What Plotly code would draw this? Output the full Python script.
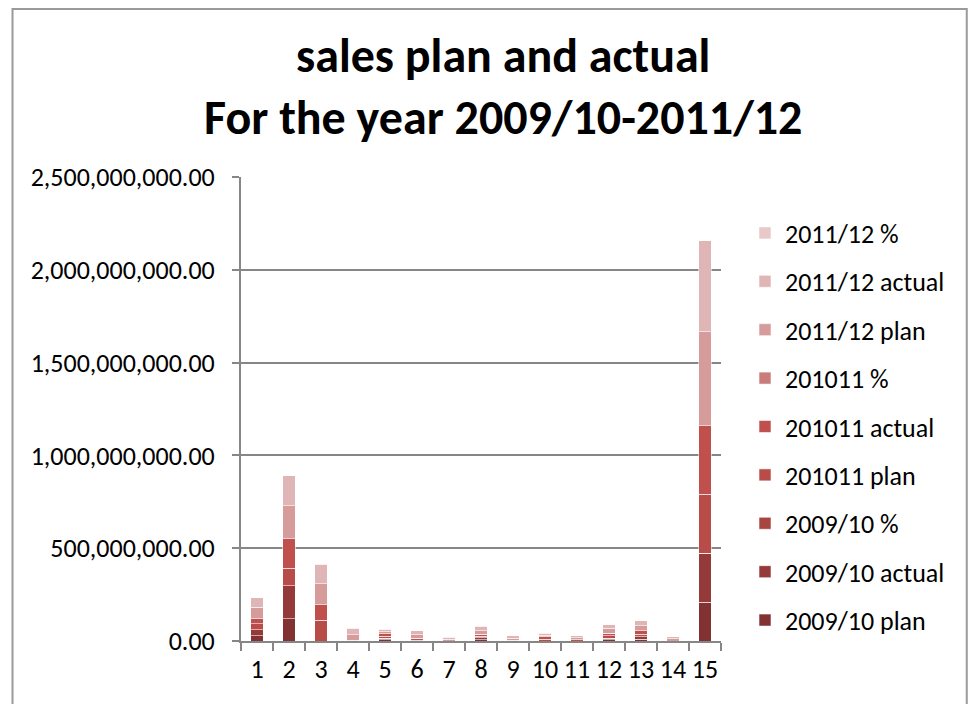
import plotly.graph_objects as go

categories = [str(i) for i in range(1, 16)]

series_names = [
    "2009/10 plan", "2009/10 actual", "2009/10 %",
    "201011 plan", "201011 actual", "201011 %",
    "2011/12 plan", "2011/12 actual", "2011/12 %",
]

plan_0910 =   [29e6, 120e6, 0, 0, 8e6, 0, 0, 8e6, 0, 0, 0, 6e6, 10e6, 0, 208e6]
actual_0910 = [31e6, 178e6, 0, 0, 8e6, 0, 0, 10e6, 0, 0, 0, 8e6, 12e6, 0, 266e6]
pct_0910 =    [1.07, 1.48, 0, 0, 1.0, 0, 0, 1.25, 0, 0, 0, 1.33, 1.2, 0, 1.28]
plan_1011 =   [32e6, 94e6, 112e6, 0, 10e6, 5e6, 0, 8e6, 0, 10e6, 0, 13e6, 15e6, 0, 316e6]
actual_1011 = [29e6, 160e6, 84e6, 5e6, 12e6, 10e6, 0, 10e6, 5e6, 12e6, 7e6, 15e6, 17e6, 0, 370e6]
pct_1011 =    [0.91, 1.70, 0.75, 0, 1.2, 2.0, 0, 1.25, 0, 1.2, 0, 1.15, 1.13, 0, 1.17]
plan_1112 =   [61e6, 178e6, 113e6, 30e6, 13e6, 19e6, 10e6, 20e6, 11e6, 10e6, 10e6, 27e6, 29e6, 11e6, 506e6]
actual_1112 = [50e6, 160e6, 105e6, 35e6, 13e6, 20e6, 10e6, 23e6, 11e6, 11e6, 10e6, 19e6, 25e6, 12e6, 490e6]
pct_1112 =    [0.82, 0.90, 0.93, 1.17, 1.0, 1.05, 1.0, 1.15, 1.0, 1.1, 1.0, 0.70, 0.86, 1.09, 0.97]

series_values = [plan_0910, actual_0910, pct_0910,
                 plan_1011, actual_1011, pct_1011,
                 plan_1112, actual_1112, pct_1112]

colors = ["#833234", "#953a3a", "#a84541",
          "#b84c49", "#c0504d", "#c97c7a",
          "#d59c9b", "#dfb6b5", "#e8c8c9"]

y_ticks = [0, 500e6, 1000e6, 1500e6, 2000e6, 2500e6]
y_tick_labels = ["0.00", "500,000,000.00", "1,000,000,000.00",
                 "1,500,000,000.00", "2,000,000,000.00", "2,500,000,000.00"]

title_text = "<b>sales plan and actual<br>For the year 2009/10-2011/12</b>"

FONT = "Carlito, Lato, sans-serif"

fig = go.Figure()
n = len(series_names)
for i, (name, vals, col) in enumerate(zip(series_names, series_values, colors)):
    fig.add_trace(go.Bar(
        x=categories, y=vals, name=name, legendgroup=name,
        legendrank=n - i,
        marker=dict(color=col, line=dict(color="rgba(255,255,255,0.55)", width=1)),
    ))

fig.update_layout(
    barmode="stack",
    bargap=0.6,
    width=975, height=704,
    margin=dict(l=241, r=254, t=177, b=63),
    paper_bgcolor="white", plot_bgcolor="white",
    font=dict(family=FONT, size=26, color="#000000"),
    legend=dict(
        x=1.05, xanchor="left", y=0.93, yanchor="top",
        traceorder="grouped", tracegroupgap=11.6,
        font=dict(family=FONT, size=26), bgcolor="rgba(0,0,0,0)",
        itemwidth=30,
    ),
    showlegend=True,
)

fig.add_annotation(
    text=title_text, xref="paper", yref="paper", x=0.546, y=1.194,
    xanchor="center", yanchor="middle", showarrow=False, align="center",
    font=dict(family=FONT, size=48, color="#000000"),
)

fig.update_xaxes(
    type="category", showline=True, linecolor="#868686", linewidth=2,
    ticks="outside", tickson="boundaries", ticklen=8, tickcolor="#868686", tickwidth=2,
    showgrid=False, tickfont=dict(family=FONT, size=26), tickangle=0,
    ticklabelstandoff=4,
)
fig.update_yaxes(
    range=[0, 2500e6], tickvals=y_ticks, ticktext=y_tick_labels,
    showline=True, linecolor="#868686", linewidth=2,
    ticks="outside", ticklen=7, tickcolor="#868686", tickwidth=2,
    showgrid=True, gridcolor="#868686", gridwidth=2, zeroline=False,
    tickfont=dict(family=FONT, size=26), ticklabelstandoff=12,
)

fig.add_shape(type="rect", xref="paper", yref="paper",
              x0=-0.476, x1=1.512, y0=-0.2, y1=1.362,
              line=dict(color="#9a9a9a", width=2), fillcolor="rgba(0,0,0,0)", layer="below")

fig.write_html("out.html")
